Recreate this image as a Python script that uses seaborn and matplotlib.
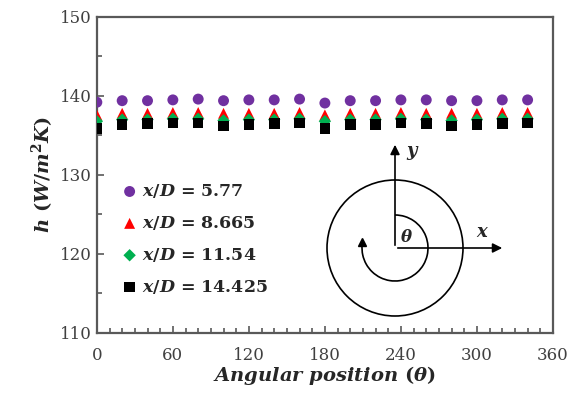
import numpy as np
import pandas as pd
import matplotlib
matplotlib.use("Agg")
import matplotlib.pyplot as plt
from matplotlib.patches import Circle, Arc
from matplotlib.ticker import MultipleLocator
import seaborn as sns

# ---- data ----
angles = [0, 20, 40, 60, 80, 100, 120, 140, 160, 180,
          200, 220, 240, 260, 280, 300, 320, 340]
h_577 = [139.2, 139.4, 139.4, 139.5, 139.6, 139.4, 139.5, 139.5, 139.6, 139.1,
         139.4, 139.4, 139.5, 139.5, 139.4, 139.4, 139.5, 139.5]
h_8665 = [137.6, 137.8, 137.8, 137.9, 137.9, 137.8, 137.8, 137.8, 137.9, 137.6,
          137.8, 137.8, 137.9, 137.8, 137.8, 137.8, 137.9, 137.9]
h_1154 = [136.8, 137.0, 137.0, 137.1, 137.1, 136.9, 137.0, 137.0, 137.1, 136.8,
          137.0, 137.0, 137.1, 137.0, 136.9, 137.0, 137.1, 137.1]
h_14425 = [135.9, 136.4, 136.5, 136.6, 136.6, 136.2, 136.4, 136.5, 136.6, 135.9,
           136.4, 136.4, 136.6, 136.5, 136.2, 136.4, 136.5, 136.6]

series = [r"$x/D$ = 5.77", r"$x/D$ = 8.665", r"$x/D$ = 11.54", r"$x/D$ = 14.425"]
colors = ["#7030A0", "#FF0000", "#00B050", "#000000"]
markers = ["o", "^", "D", "s"]
sizes = [62, 62, 40, 58]

df = pd.concat([
    pd.DataFrame({"angle": angles, "h": vals, "case": name})
    for name, vals in zip(series, [h_577, h_8665, h_1154, h_14425])
])

sns.set_style("ticks")
plt.rcParams.update({
    "font.family": ["DejaVu Serif"],
    "mathtext.fontset": "custom",
    "mathtext.it": "DejaVu Serif:italic:bold",
    "mathtext.rm": "DejaVu Serif:bold",
    "mathtext.bf": "DejaVu Serif:bold",
})

fig = plt.figure(figsize=(5.73, 3.94), dpi=100)
ax = fig.add_axes([0.169, 0.155, 0.796, 0.802])

for name, c, m, s in zip(series, colors, markers, sizes):
    sub = df[df["case"] == name]
    sns.scatterplot(data=sub, x="angle", y="h", color=c, marker=m, s=s,
                    edgecolor="none", ax=ax, label=name, zorder=3)

ax.set_xlim(0, 360)
ax.set_ylim(110, 150)
ax.xaxis.set_major_locator(MultipleLocator(60))
ax.xaxis.set_minor_locator(MultipleLocator(10))
ax.yaxis.set_major_locator(MultipleLocator(10))
ax.yaxis.set_minor_locator(MultipleLocator(5))
ax.tick_params(which="both", direction="in", top=False, right=False,
               color="#595959", labelsize=12, labelcolor="#404040")
ax.tick_params(which="major", length=5, width=1.2)
ax.tick_params(which="minor", length=3.5, width=1.2)
ax.tick_params(axis="x", pad=10)
for sp in ax.spines.values():
    sp.set_color("#595959")
    sp.set_linewidth(1.6)

ax.set_xlabel(r"$Angular\ position\ (\theta)$", fontsize=14, labelpad=0)
ax.set_ylabel(r"$h\ (W/m^2K)$", fontsize=14, labelpad=3)

ax.legend(loc="upper left", bbox_to_anchor=(0.03, 0.505), frameon=False,
          prop={"size": 12.5, "weight": "bold"}, handletextpad=0.1,
          labelspacing=0.8, handlelength=1.2, borderpad=0)

# ---- coordinate sketch (pixel-like units, centre at 0,0) ----
iax = fig.add_axes([325 / 573, (394 - 320) / 394, 180 / 573, 180 / 394])
iax.set_xlim(-70, 110)
iax.set_ylim(-72, 108)
iax.set_aspect("equal")
iax.axis("off")
iax.add_patch(Circle((0, 0), 68, fill=False, lw=1.2, color="black"))
iax.add_patch(Arc((0, 0), 66, 66, theta1=175, theta2=90, lw=1.2, color="black"))
iax.plot([-33], [6], marker="^", color="black", ms=6)
arrow = dict(arrowstyle="-|>", lw=1.2, color="black", mutation_scale=14)
iax.annotate("", xy=(0, 106), xytext=(0, 0), arrowprops=arrow)
iax.annotate("", xy=(110, 0), xytext=(0, 0), arrowprops=arrow)
iax.text(18, 95, r"$y$", fontsize=13, ha="center", va="center")
iax.text(88, 16, r"$x$", fontsize=13, ha="center", va="center")
iax.text(12, 10, r"$\theta$", fontsize=12, ha="center", va="center")

fig.savefig("out.png", dpi=100)
